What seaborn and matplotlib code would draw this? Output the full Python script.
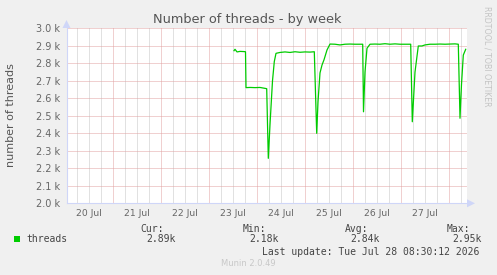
import matplotlib
matplotlib.use("Agg")
import matplotlib.pyplot as plt
import seaborn as sns
import pandas as pd
from matplotlib.ticker import FuncFormatter

# ---- data (hours since 20 Jul 00:00, number of threads) ----
hours = [84.35, 84.85, 85.85, 87.35, 89.35, 90.1, 90.35, 92.35, 94.85, 97.35,
         100.7, 101.5, 102.35, 103.6, 104.5, 105.35, 107.35, 109.85, 112.35,
         114.85, 117.35, 119.85, 122.35, 124.5, 125.7, 126.35, 127.35, 128.35,
         129.35, 130.85, 132.35, 134.85, 137.35, 139.85, 142.35, 144.85, 148.7,
         149.1, 149.85, 150.85, 152.35, 154.85, 157.35, 159.85, 162.35, 164.85,
         167.35, 169.85, 172.7, 173.5, 174.85, 176.5, 178.35, 179.85, 182.35,
         184.85, 187.35, 189.85, 192.35, 194.85, 196.5, 197.35, 198.1, 199.0,
         200.2]
threads = [2872, 2880, 2865, 2868, 2867, 2866, 2661, 2662, 2661, 2662,
           2655, 2257, 2450, 2700, 2810, 2857, 2862, 2865, 2862,
           2866, 2863, 2865, 2864, 2866, 2400, 2580, 2745, 2790,
           2820, 2876, 2910, 2909, 2905, 2909, 2910, 2909, 2909,
           2523, 2750, 2886, 2909, 2910, 2909, 2912, 2909, 2911,
           2909, 2909, 2909, 2466, 2750, 2899, 2899, 2905, 2909,
           2909, 2910, 2909, 2910, 2911, 2909, 2486, 2680, 2847,
           2880]
day_labels = ["20 Jul", "21 Jul", "22 Jul", "23 Jul", "24 Jul", "25 Jul", "26 Jul", "27 Jul"]
y_ticks = [2000, 2100, 2200, 2300, 2400, 2500, 2600, 2700, 2800, 2900, 3000]
legend_name = "threads"
stat_names = ["Cur:", "Min:", "Avg:", "Max:"]
stat_values = ["2.89k", "2.18k", "2.84k", "2.95k"]
last_update = "Last update: Tue Jul 28 08:30:12 2026"

df = pd.DataFrame({"hours": hours, "threads": threads})

W, H = 497, 275
fig = plt.figure(figsize=(W / 100, H / 100), dpi=100, facecolor="#F0F0F0")

def fx(px):
    return px / W

def fy(py):
    return 1 - py / H

left, right, top, bottom = 66.5, 467.3, 28.3, 203.3
ax = fig.add_axes([fx(left), fy(bottom), fx(right - left), (bottom - top) / H])
ax.set_facecolor("white")

XMIN, XMAX = 0.6, 201.0
ax.set_xlim(XMIN, XMAX)
ax.set_ylim(2000, 3000)

# grid
dot = (0, (1, 1))
major_col = "#E2A2A2"
minor_col = "#C4C4C4"
h = 6
while h < XMAX:
    if h > XMIN:
        col = major_col if h % 24 == 0 else minor_col
        ax.axvline(h, color=col, lw=0.72, ls=dot, zorder=1)
    h += 6
for v in y_ticks:
    ax.axhline(v, color=major_col, lw=0.72, ls=dot, zorder=1)

sns.lineplot(data=df, x="hours", y="threads", ax=ax, color="#00CC00", lw=0.9,
             zorder=3, legend=False)

text_col = "#666666"
ax.set_xticks([12 + 24 * i for i in range(len(day_labels))])
ax.set_xticklabels(day_labels)
ax.set_yticks(y_ticks)
ax.yaxis.set_major_formatter(FuncFormatter(lambda v, p: f"{v/1000:.1f} k"))
ax.tick_params(axis="x", length=0, pad=4.0, labelsize=6.7, labelcolor=text_col)
ax.tick_params(axis="y", length=0, pad=4.5, labelsize=7.0, labelcolor=text_col)
ax.set_xlabel("")
ax.set_ylabel("")

for s in ["top", "right"]:
    ax.spines[s].set_visible(False)
axis_col = "#CFD6F8"
ax.spines["left"].set_color(axis_col)
ax.spines["bottom"].set_color(axis_col)
ax.spines["left"].set_linewidth(0.8)
ax.spines["bottom"].set_linewidth(0.8)

# arrows
fig.patches.append(plt.Polygon([[fx(62.5), fy(28)], [fx(70.5), fy(28)], [fx(66.5), fy(20)]],
                               closed=True, transform=fig.transFigure,
                               facecolor=axis_col, edgecolor="none"))
fig.patches.append(plt.Polygon([[fx(467), fy(199.3)], [fx(467), fy(207.3)], [fx(475), fy(203.3)]],
                               closed=True, transform=fig.transFigure,
                               facecolor=axis_col, edgecolor="none"))

# texts
fig.text(fx(247.5), fy(19), "Number of threads - by week", ha="center", va="center",
         fontsize=9.3, color="#555555", family="DejaVu Sans")
fig.text(fx(11), fy(115), "number of threads", ha="center", va="center", rotation=90,
         fontsize=8.0, color="#555555", family="DejaVu Sans")
fig.text(fx(487.5), fy(56), "RRDTOOL / TOBI OETIKER", ha="center", va="center", rotation=270,
         fontsize=5.7, color="#C4C4C4", family="DejaVu Sans")

mono = "DejaVu Sans Mono"
fig.patches.append(plt.Rectangle((fx(14), fy(242)), fx(6), 6 / H, transform=fig.transFigure,
                                 facecolor="#00CC00", edgecolor="none"))
fig.text(fx(26.7), fy(239), legend_name, ha="left", va="center", fontsize=7.0,
         color="#444444", family=mono)
name_x = [140, 243, 345, 446.7]
val_x = [146.7, 249.3, 350.7, 452.7]
for nx, vx, n, v in zip(name_x, val_x, stat_names, stat_values):
    fig.text(fx(nx), fy(228.5), n, ha="left", va="center", fontsize=7.0, color="#444444", family=mono)
    fig.text(fx(vx), fy(239), v, ha="left", va="center", fontsize=7.0, color="#444444", family=mono)
fig.text(fx(261.7), fy(251.7), last_update, ha="left", va="center", fontsize=7.0,
         color="#444444", family=mono)
fig.text(fx(248.5), fy(264), "Munin 2.0.49", ha="center", va="center", fontsize=6.0,
         color="#C8C8C8", family="DejaVu Sans")

fig.savefig("out.png", dpi=100, facecolor=fig.get_facecolor())
